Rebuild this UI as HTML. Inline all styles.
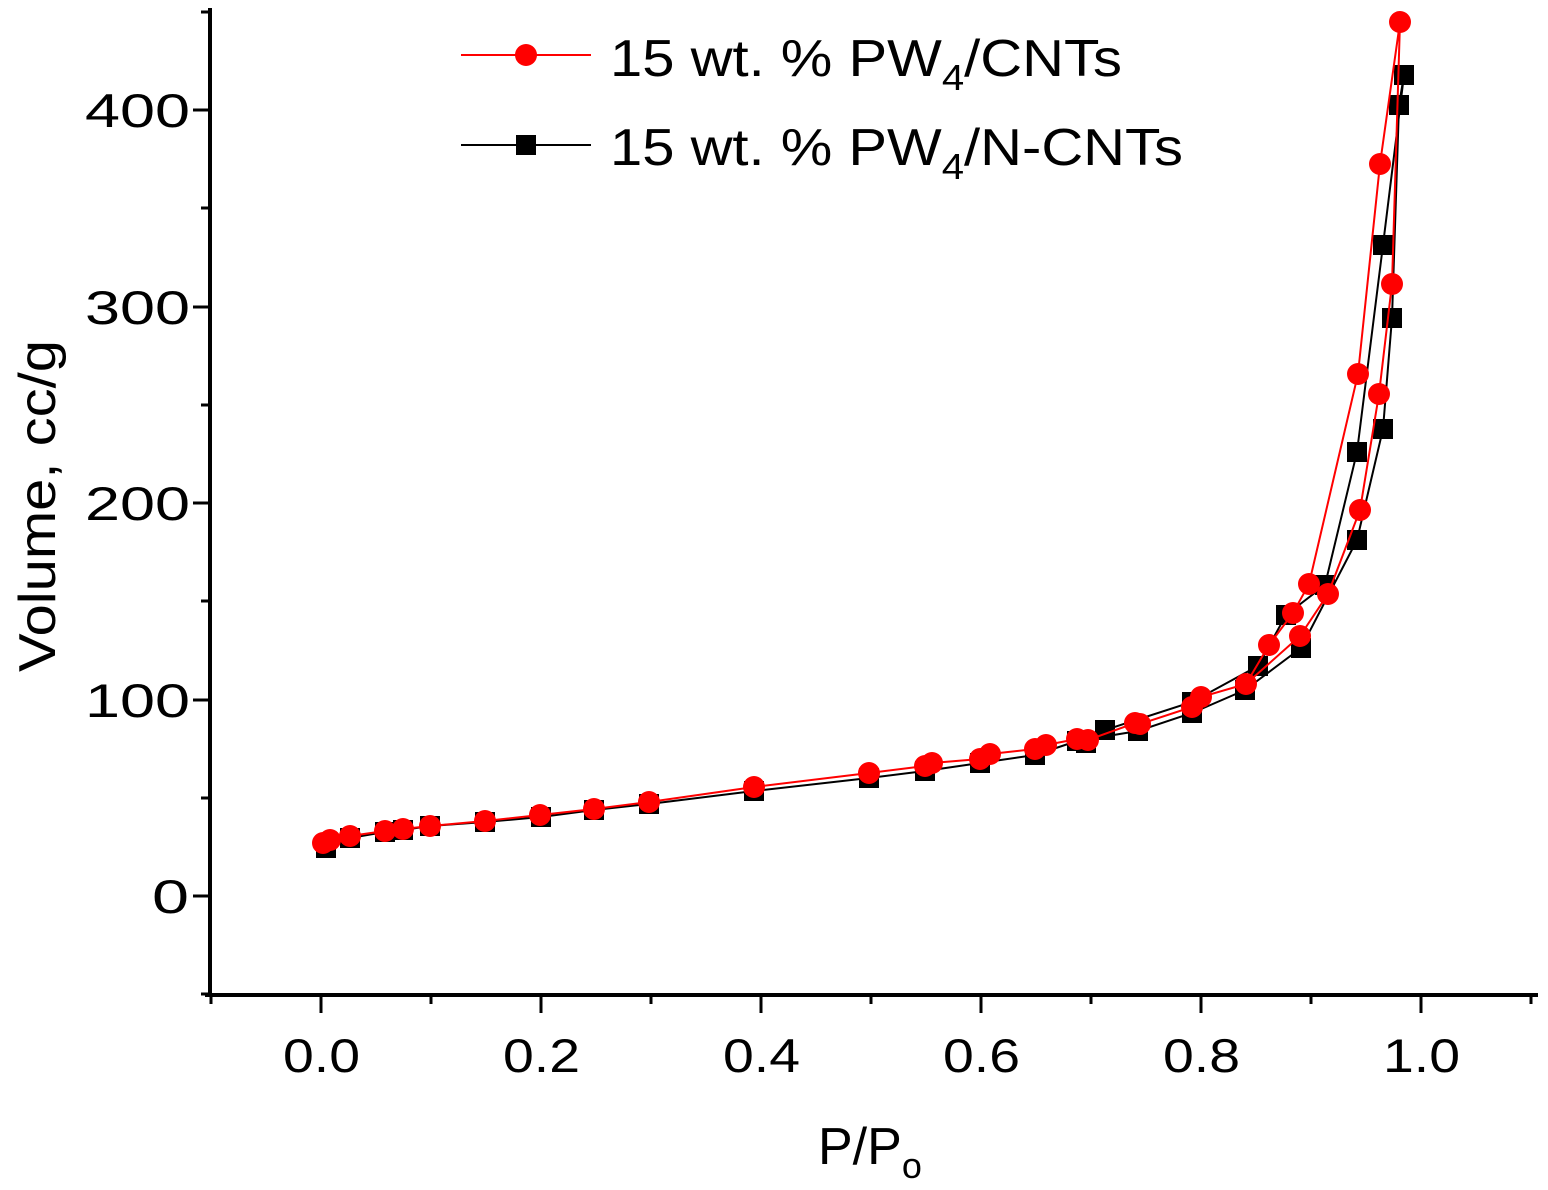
<!DOCTYPE html>
<html><head><style>html,body{margin:0;padding:0;background:#fff;}svg{display:block;}</style></head>
<body>
<svg width="1548" height="1190" viewBox="0 0 1548 1190" xmlns="http://www.w3.org/2000/svg" font-family="Liberation Sans, Arial, sans-serif">
<rect width="1548" height="1190" fill="#fff"/>
<line x1="210" y1="8" x2="210" y2="997" stroke="#000" stroke-width="4"/>
<line x1="205" y1="995" x2="1538" y2="995" stroke="#000" stroke-width="4"/>
<g stroke="#000" stroke-width="3">
<line x1="211" y1="995" x2="211" y2="1004"/>
<line x1="321" y1="995" x2="321" y2="1013"/>
<line x1="431" y1="995" x2="431" y2="1004"/>
<line x1="541" y1="995" x2="541" y2="1013"/>
<line x1="651" y1="995" x2="651" y2="1004"/>
<line x1="761" y1="995" x2="761" y2="1013"/>
<line x1="871" y1="995" x2="871" y2="1004"/>
<line x1="981" y1="995" x2="981" y2="1013"/>
<line x1="1091" y1="995" x2="1091" y2="1004"/>
<line x1="1201" y1="995" x2="1201" y2="1013"/>
<line x1="1311" y1="995" x2="1311" y2="1004"/>
<line x1="1421" y1="995" x2="1421" y2="1013"/>
<line x1="1531" y1="995" x2="1531" y2="1004"/>
<line x1="201" y1="994" x2="210" y2="994"/>
<line x1="193" y1="896" x2="210" y2="896"/>
<line x1="201" y1="798" x2="210" y2="798"/>
<line x1="193" y1="700" x2="210" y2="700"/>
<line x1="201" y1="601" x2="210" y2="601"/>
<line x1="193" y1="503" x2="210" y2="503"/>
<line x1="201" y1="405" x2="210" y2="405"/>
<line x1="193" y1="307" x2="210" y2="307"/>
<line x1="201" y1="208" x2="210" y2="208"/>
<line x1="193" y1="110" x2="210" y2="110"/>
<line x1="201" y1="12" x2="210" y2="12"/>
</g>
<g font-size="47" fill="#000">
<text x="152" y="913" textLength="37" lengthAdjust="spacingAndGlyphs">0</text>
<text x="85" y="717" textLength="105" lengthAdjust="spacingAndGlyphs">100</text>
<text x="85" y="520" textLength="105" lengthAdjust="spacingAndGlyphs">200</text>
<text x="85" y="324" textLength="105" lengthAdjust="spacingAndGlyphs">300</text>
<text x="85" y="127" textLength="105" lengthAdjust="spacingAndGlyphs">400</text>
</g>
<g font-size="47" fill="#000">
<text x="283" y="1072" textLength="77" lengthAdjust="spacingAndGlyphs">0.0</text>
<text x="503" y="1072" textLength="77" lengthAdjust="spacingAndGlyphs">0.2</text>
<text x="723" y="1072" textLength="77" lengthAdjust="spacingAndGlyphs">0.4</text>
<text x="943" y="1072" textLength="77" lengthAdjust="spacingAndGlyphs">0.6</text>
<text x="1163" y="1072" textLength="77" lengthAdjust="spacingAndGlyphs">0.8</text>
<text x="1383" y="1072" textLength="77" lengthAdjust="spacingAndGlyphs">1.0</text>
</g>
<text x="818" y="1164" font-size="52">P/P<tspan font-size="36" dy="14">o</tspan></text>
<text transform="translate(55,506) rotate(-90)" font-size="52" text-anchor="middle" textLength="332" lengthAdjust="spacingAndGlyphs">Volume, cc/g</text>
<polyline fill="none" stroke="#000" stroke-width="2" points="326,848 350,838 385,832 403,830 430,826 485,822 541,817 594,810 649,804 754,791 869,778 925,771 980,763 1035,755 1077,741 1138,731 1192,713 1245,690 1301,648 1357,540 1383,429 1392,318 1399,105 1404,75 1383,245 1357,452 1325,585 1286,615 1258,666 1192,702 1105,730 1086,743"/>
<g fill="#000">
<rect x="316" y="838" width="20" height="20"/><rect x="340" y="828" width="20" height="20"/><rect x="375" y="822" width="20" height="20"/><rect x="393" y="820" width="20" height="20"/><rect x="420" y="816" width="20" height="20"/><rect x="475" y="812" width="20" height="20"/><rect x="531" y="807" width="20" height="20"/><rect x="584" y="800" width="20" height="20"/><rect x="639" y="794" width="20" height="20"/><rect x="744" y="781" width="20" height="20"/><rect x="859" y="768" width="20" height="20"/><rect x="915" y="761" width="20" height="20"/><rect x="970" y="753" width="20" height="20"/><rect x="1025" y="745" width="20" height="20"/><rect x="1067" y="731" width="20" height="20"/><rect x="1076" y="733" width="20" height="20"/><rect x="1128" y="721" width="20" height="20"/><rect x="1182" y="703" width="20" height="20"/><rect x="1235" y="680" width="20" height="20"/><rect x="1291" y="638" width="20" height="20"/><rect x="1347" y="530" width="20" height="20"/><rect x="1373" y="419" width="20" height="20"/><rect x="1382" y="308" width="20" height="20"/><rect x="1389" y="95" width="20" height="20"/><rect x="1394" y="65" width="20" height="20"/><rect x="1373" y="235" width="20" height="20"/><rect x="1347" y="442" width="20" height="20"/><rect x="1315" y="575" width="20" height="20"/><rect x="1276" y="605" width="20" height="20"/><rect x="1248" y="656" width="20" height="20"/><rect x="1182" y="692" width="20" height="20"/><rect x="1095" y="720" width="20" height="20"/>
</g>
<polyline fill="none" stroke="#f00" stroke-width="2" points="323,843 330,840 350,836 385,831 403,829 430,826 485,821 540,815 594,809 649,802 754,787 869,773 925,766 932,763 980,759 990,754 1035,749 1046,745 1077,739 1088,740 1135,723 1140,724 1192,707 1201,697 1246,684 1300,636 1328,594 1360,510 1379,394 1392,284 1400,22 1380,164 1358,374 1309,584 1293,613 1269,645 1246,684"/>
<g fill="#f00">
<circle cx="323" cy="843" r="11"/><circle cx="330" cy="840" r="11"/><circle cx="350" cy="836" r="11"/><circle cx="385" cy="831" r="11"/><circle cx="403" cy="829" r="11"/><circle cx="430" cy="826" r="11"/><circle cx="485" cy="821" r="11"/><circle cx="540" cy="815" r="11"/><circle cx="594" cy="809" r="11"/><circle cx="649" cy="802" r="11"/><circle cx="754" cy="787" r="11"/><circle cx="869" cy="773" r="11"/><circle cx="925" cy="766" r="11"/><circle cx="932" cy="763" r="11"/><circle cx="980" cy="759" r="11"/><circle cx="990" cy="754" r="11"/><circle cx="1035" cy="749" r="11"/><circle cx="1046" cy="745" r="11"/><circle cx="1077" cy="739" r="11"/><circle cx="1088" cy="740" r="11"/><circle cx="1135" cy="723" r="11"/><circle cx="1140" cy="724" r="11"/><circle cx="1192" cy="707" r="11"/><circle cx="1201" cy="697" r="11"/><circle cx="1246" cy="684" r="11"/><circle cx="1300" cy="636" r="11"/><circle cx="1328" cy="594" r="11"/><circle cx="1360" cy="510" r="11"/><circle cx="1379" cy="394" r="11"/><circle cx="1392" cy="284" r="11"/><circle cx="1400" cy="22" r="11"/><circle cx="1380" cy="164" r="11"/><circle cx="1358" cy="374" r="11"/><circle cx="1309" cy="584" r="11"/><circle cx="1293" cy="613" r="11"/><circle cx="1269" cy="645" r="11"/>
</g>
<line x1="461" y1="55" x2="591" y2="55" stroke="#f00" stroke-width="2"/>
<circle cx="526" cy="55" r="11" fill="#f00"/>
<line x1="461" y1="145" x2="591" y2="145" stroke="#000" stroke-width="2"/>
<rect x="516" y="135" width="20" height="20" fill="#000"/>
<text x="610" y="76" font-size="52" textLength="512" lengthAdjust="spacingAndGlyphs">15 wt. % PW<tspan font-size="36" dy="14">4</tspan><tspan dy="-14">/CNTs</tspan></text>
<text x="610" y="165" font-size="52" textLength="573" lengthAdjust="spacingAndGlyphs">15 wt. % PW<tspan font-size="36" dy="14">4</tspan><tspan dy="-14">/N-CNTs</tspan></text>
</svg>
</body></html>
